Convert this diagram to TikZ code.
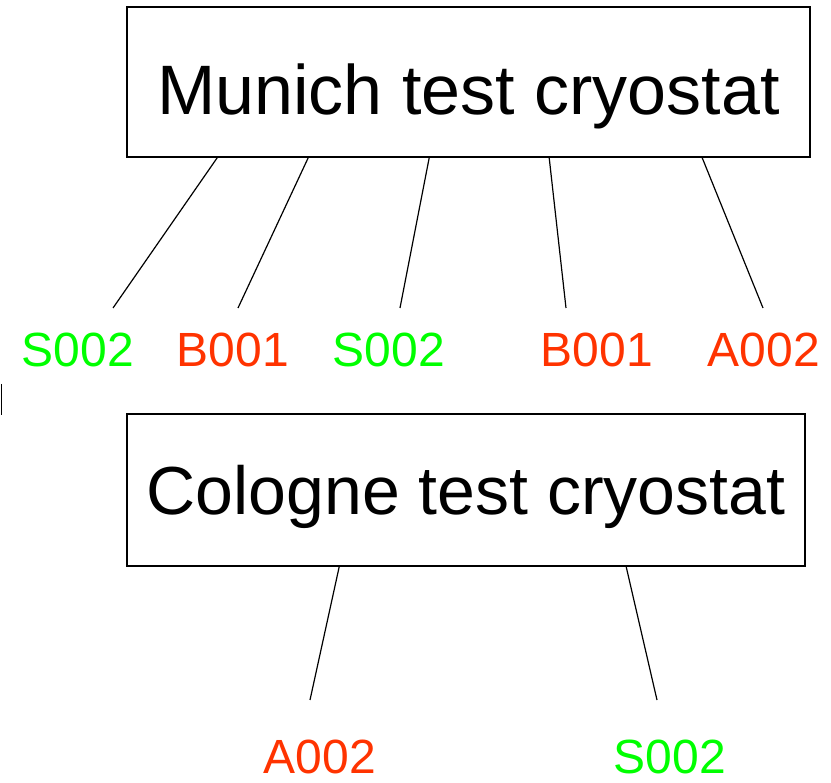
\documentclass[tikz,border=0pt]{standalone}
\usepackage{fontspec}
\setmainfont{Liberation Sans}
\usetikzlibrary{calc}
\definecolor{lblgreen}{RGB}{0,255,0}
\definecolor{lblred}{RGB}{255,51,0}
\begin{document}
\begin{tikzpicture}[x=1pt,y=-1pt,
  cryobox/.style={draw, line width=1.6pt, inner sep=0pt, anchor=base,
    font=\fontsize{70}{80}\selectfont},
  lbl/.style={anchor=base, inner sep=0pt, font=\fontsize{48}{56}\selectfont},
  grn/.style={lbl, text=lblgreen},
  rd/.style={lbl, text=lblred},
  wire/.style={line width=1.2pt}]
\useasboundingbox (0,0) rectangle (831,783);

\node[cryobox, minimum width=683pt, text height=108pt, text depth=42pt] (m) at (468.5,115) {Munich test cryostat};
\node[cryobox, minimum width=678pt, text height=101pt, text depth=51pt, font=\fontsize{68}{78}\selectfont] (c) at (466,515) {Cologne test cryostat};

\node[grn] (l1) at (78,367) {S002};
\node[rd]  (l2) at (233,367) {B001};
\node[grn] (l3) at (389,367) {S002};
\node[rd]  (l4) at (597,367) {B001};
\node[rd]  (l5) at (764,367) {A002};
\node[rd]  (l6) at (320,773) {A002};
\node[grn] (l7) at (670,773) {S002};

\coordinate (e1) at (113,308);
\coordinate (e2) at (238,308);
\coordinate (e3) at (400,308);
\coordinate (e4) at (566,308);
\coordinate (e5) at (763,308);
\coordinate (e6) at (310,700);
\coordinate (e7) at (657,700);

\draw[wire] ($(m.south west)+(91,0)$) -- (e1);
\draw[wire] ($(m.south west)+(182,0)$) -- (e2);
\draw[wire] ($(m.south west)+(303,0)$) -- (e3);
\draw[wire] ($(m.south west)+(423,0)$) -- (e4);
\draw[wire] ($(m.south west)+(576,0)$) -- (e5);
\draw[wire] ($(c.south west)+(213,0)$) -- (e6);
\draw[wire] ($(c.south west)+(500,0)$) -- (e7);

\coordinate (t1) at (1,384);
\coordinate (t2) at (1,415);
\draw[line width=1pt] (t1) -- (t2);
\end{tikzpicture}
\end{document}
